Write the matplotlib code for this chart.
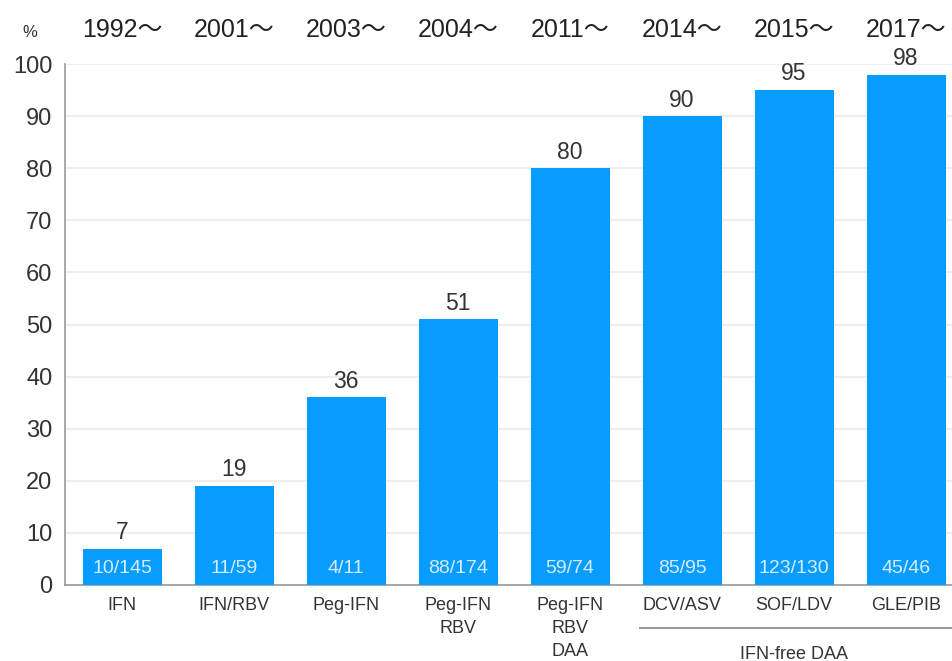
import numpy as np
import matplotlib.pyplot as plt

plt.rcParams['font.family'] = ['Liberation Sans', 'Noto Sans CJK JP', 'DejaVu Sans']

years = ['1992～', '2001～', '2003～', '2004～', '2011～', '2014～', '2015～', '2017～']
regimens = ['IFN', 'IFN/RBV', 'Peg-IFN', 'Peg-IFN\nRBV', 'Peg-IFN\nRBV\nDAA',
            'DCV/ASV', 'SOF/LDV', 'GLE/PIB']
svr_rate = [7, 19, 36, 51, 80, 90, 95, 98]
cases = ['10/145', '11/59', '4/11', '88/174', '59/74', '85/95', '123/130', '45/46']
group_label = 'IFN-free DAA'

bar_color = '#069dff'
text_color = '#333333'

fig = plt.figure(figsize=(9.52, 6.61), dpi=100)
ax = fig.add_axes([0.0683, 0.115, 0.9317, 0.788])

x = np.arange(len(svr_rate))
ax.bar(x, svr_rate, width=0.705, color=bar_color, zorder=3)

ax.set_xlim(-0.51, 7.41)
ax.set_ylim(0, 100)
ax.set_yticks(range(0, 101, 10))
ax.tick_params(axis='y', length=0, pad=9, labelsize=17, labelcolor=text_color)
ax.set_xticks([])
ax.grid(axis='y', color='#eeeeee', linewidth=1.5, zorder=0)

for s in ['top', 'right']:
    ax.spines[s].set_visible(False)
ax.spines['left'].set_color('#999999')
ax.spines['bottom'].set_color('#999999')
ax.spines['left'].set_linewidth(1.2)
ax.spines['bottom'].set_linewidth(1.2)

for i, v in enumerate(svr_rate):
    # value on top of each bar
    ax.text(x[i], v + 0.9, str(v), ha='center', va='bottom', fontsize=16.5,
            color=text_color, clip_on=False)
    # responders / treated inside the bar
    ax.text(x[i], 3.2, cases[i], ha='center', va='center', fontsize=14,
            color='#d6ebff', zorder=4)
    # period above the plot
    ax.text(x[i], 1.052, years[i], transform=ax.get_xaxis_transform(),
            ha='center', va='baseline', fontsize=18, color='#222222')
    # regimen under the axis
    ax.text(x[i], -2.3, regimens[i], ha='center', va='top', fontsize=13,
            color=text_color, linespacing=1.45, clip_on=False)

ax.text(-0.82, 1.06, '%', transform=ax.get_xaxis_transform(), ha='center',
        va='center', fontsize=12, color=text_color)

# bracket line grouping the interferon-free regimens
ax.plot([4.62, 7.41], [-8.3, -8.3], color='#999999', linewidth=1.5,
        clip_on=False)
ax.text(6.0, -13.3, group_label, ha='center', va='center', fontsize=13,
        color=text_color, clip_on=False)

fig.savefig('out.png', dpi=100)
